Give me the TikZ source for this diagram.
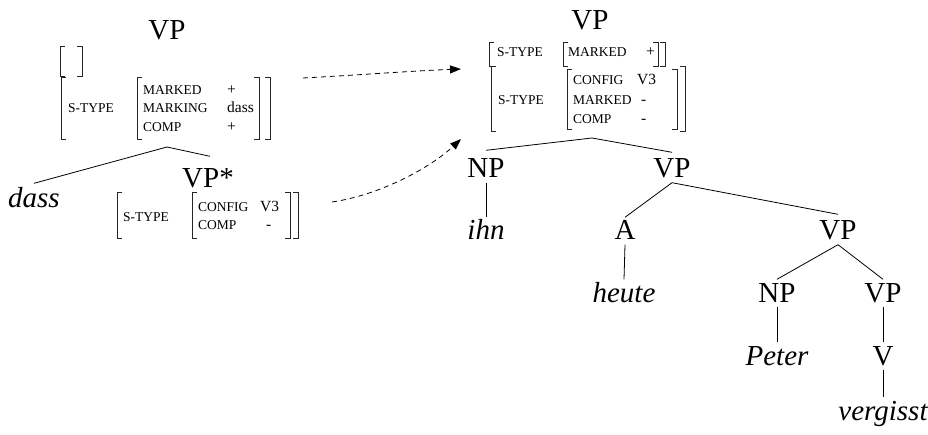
\documentclass[tikz,border=0pt]{standalone}
\usepackage{fontspec}
\setmainfont{Liberation Serif}
\usetikzlibrary{arrows.meta}
\newcommand\avmbr[4]{%
  \draw[brk] ({#1+5},#3) -- (#1,#3) -- (#1,#4) -- ({#1+5},#4);
  \draw[brk] ({#2-5},#3) -- (#2,#3) -- (#2,#4) -- ({#2-5},#4);}
\begin{document}
\begin{tikzpicture}[x=1pt,y=-1pt,
  cat/.style={font=\fontsize{29}{31}\selectfont, anchor=base, inner xsep=0pt, inner ysep=2.5pt, text height=20pt, text depth=2pt},
  word/.style={cat, font=\fontsize{29}{31}\selectfont\itshape},
  feat/.style={font=\fontsize{13.5}{14}\selectfont, anchor=base west, inner sep=0pt},
  val/.style={font=\fontsize{15.5}{16}\selectfont, anchor=base west, inner sep=0pt},
  brk/.style={line width=1pt, black!85},
  edge/.style={line width=0.8pt},
  dasharrow/.style={line width=0.8pt, dash pattern=on 5pt off 4pt, -{Triangle[length=11pt,width=8pt]}}]
\useasboundingbox (0,0) rectangle (928,435);

% ---------- left structure ----------
\node[cat] (lvp) at (167,40) {VP};
\avmbr{60}{82}{47}{77}
\avmbr{61}{270}{78}{140}
\avmbr{137}{259}{78}{140}
\node[feat] (ls1) at (68,113) {S-TYPE};
\node[feat] (lf1) at (143,95) {MARKED};
\node[feat] (lf2) at (143,113) {MARKING};
\node[feat] (lf3) at (143,132) {COMP};
\node[val] (lv1) at (227,95) {+};
\node[val] (lv2) at (227,113) {dass};
\node[val] (lv3) at (227,132) {+};
\coordinate (L0) at (167,147);

\node[word] (dass) at (34,208) {dass};
\node[cat] (vpstar) at (208,188) {VP*};
\draw[edge] (L0) -- ([yshift=2pt]dass.north);
\draw[edge] (L0) -- ([xshift=2pt,yshift=9pt]vpstar.north);

\avmbr{117}{298}{193}{239}
\avmbr{192}{290}{193}{239}
\node[feat] (ls2) at (123,222) {S-TYPE};
\node[feat] (lf4) at (198,212) {CONFIG};
\node[feat] (lf5) at (198,230) {COMP};
\node[val] (lv4) at (260,212) {V3};
\node[val] (lv5) at (266,230) {-};

% ---------- right structure ----------
\node[cat] (rvp) at (590,30) {VP};
\avmbr{489}{665}{43}{67}
\avmbr{563}{658}{43}{67}
\node[feat] (rs1) at (497,57) {S-TYPE};
\node[feat] (rf1) at (568,57) {MARKED};
\node[val] (rv1) at (646,57) {+};

\avmbr{491}{685}{67}{132}
\avmbr{567}{677}{70}{130}
\node[feat] (rs2) at (498,105) {S-TYPE};
\node[feat] (rf2) at (573,85) {CONFIG};
\node[feat] (rf3) at (573,105) {MARKED};
\node[feat] (rf4) at (573,124) {COMP};
\node[val] (rv2) at (637,85) {V3};
\node[val] (rv3) at (641,105) {-};
\node[val] (rv4) at (641,124) {-};
\coordinate (R0) at (592,138);

\node[cat] (np1) at (486,178) {NP};
\node[cat] (vp1) at (672,178) {VP};
\node[word] (ihn) at (486,240) {ihn};
\node[cat] (a) at (625,240) {A};
\node[cat] (vp2) at (838,240) {VP};
\node[word] (heute) at (624,302) {heute};
\node[cat] (np2) at (777,302) {NP};
\node[cat] (vp3) at (883,302) {VP};
\node[word] (peter) at (777,365) {Peter};
\node[cat] (v) at (883,365) {V};
\node[word] (vergisst) at (883,420) {vergisst};

\draw[edge] (R0) -- ([yshift=5pt]np1.north);
\draw[edge] (R0) -- ([yshift=3pt]vp1.north);
\draw[edge] (np1.south) -- (ihn.north);
\draw[edge] (vp1.south) -- (a.north);
\draw[edge] (vp1.south) -- ([yshift=3pt]vp2.north);
\draw[edge] (a.south) -- (heute.north);
\draw[edge] (vp2.south) -- (np2.north);
\draw[edge] (vp2.south) -- (vp3.north);
\draw[edge] (np2.south) -- (peter.north);
\draw[edge] (vp3.south) -- (v.north);
\draw[edge] (v.south) -- (vergisst.north);

% ---------- dashed arrows ----------
\coordinate (a1s) at (303,78);
\coordinate (a1e) at (461,69);
\coordinate (a2s) at (332,202);
\coordinate (a2e) at (461,139);
\draw[dasharrow] (a1s) .. controls (360,75) and (410,71) .. (a1e);
\draw[dasharrow] (a2s) .. controls (380,195) and (430,168) .. (a2e);
\end{tikzpicture}
\end{document}
